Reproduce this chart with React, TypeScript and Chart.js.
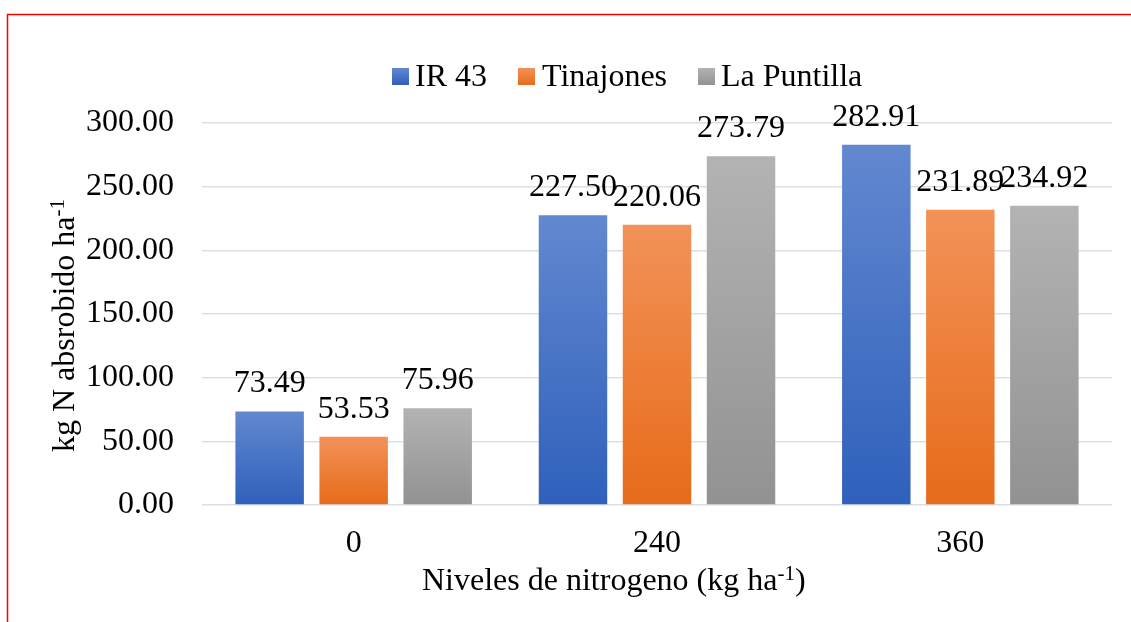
import React, { useEffect, useRef } from "react";
import { Chart, registerables } from "chart.js";

Chart.register(...registerables);

const categories = ["0", "240", "360"];
const seriesNames = ["IR 43", "Tinajones", "La Puntilla"];
const ir43 = [73.49, 227.5, 282.91];
const tinajones = [53.53, 220.06, 231.89];
const laPuntilla = [75.96, 273.79, 234.92];
const yTickMin = 0;
const yTickMax = 300;
const yTickStep = 50;

const xTitle = "Niveles de nitrogeno (kg ha";
const yTitle = "kg N absrobido ha";
const superscript = "-1";

const gradTop = ["#6288d0", "#f29258", "#b3b3b3"];
const gradBottom = ["#2f60bb", "#e76b1a", "#929292"];
const FONT = '"Liberation Serif", "Times New Roman", serif';

export default function App() {
  const ref = useRef<HTMLCanvasElement | null>(null);

  useEffect(() => {
    const canvas = ref.current;
    if (!canvas) return;

    const makeBg = (i: number) => (ctx: any) => {
      const chart = ctx.chart;
      if (!chart.chartArea || ctx.type !== "data" || !chart.scales.y) return gradBottom[i];
      const ys = chart.scales.y;
      const v = ctx.parsed ? ctx.parsed.y : ctx.raw;
      const top = ys.getPixelForValue(v);
      const base = ys.getPixelForValue(0);
      if (!isFinite(top) || !isFinite(base) || top === base) return gradBottom[i];
      const g = chart.ctx.createLinearGradient(0, top, 0, base);
      g.addColorStop(0, gradTop[i]);
      g.addColorStop(1, gradBottom[i]);
      return g;
    };

    const decorPlugin = {
      id: "decor",
      afterDraw(chart: any) {
        const c = chart.ctx;
        c.save();
        // red frame
        c.strokeStyle = "#ff0000";
        c.lineWidth = 1.5;
        c.strokeRect(7.5, 14.5, 3000, 3000);

        // data labels
        c.fillStyle = "#000";
        c.font = `32px ${FONT}`;
        c.textAlign = "center";
        c.textBaseline = "alphabetic";
        chart.data.datasets.forEach((ds: any, di: number) => {
          const meta = chart.getDatasetMeta(di);
          meta.data.forEach((bar: any, i: number) => {
            const v = ds.data[i] as number;
            c.fillText(v.toFixed(2), bar.x, bar.y - 19);
          });
        });

        // legend
        const boxX = [392, 518, 698];
        const textX = [415, 542, 721];
        c.textAlign = "left";
        seriesNames.forEach((name, i) => {
          const g = c.createLinearGradient(0, 68, 0, 85);
          g.addColorStop(0, gradTop[i]);
          g.addColorStop(1, gradBottom[i]);
          c.fillStyle = g;
          c.fillRect(boxX[i], 68, 17, 17);
          c.fillStyle = "#000";
          c.fillText(name, textX[i], 86);
        });

        // x title
        c.font = `32px ${FONT}`;
        c.fillText(xTitle, 422, 590);
        let w = c.measureText(xTitle).width;
        c.font = `21px ${FONT}`;
        c.fillText(superscript, 422 + w, 580);
        const sw = c.measureText(superscript).width;
        c.font = `32px ${FONT}`;
        c.fillText(")", 422 + w + sw, 590);

        // y title
        c.save();
        c.translate(74, 452);
        c.rotate(-Math.PI / 2);
        c.font = `32px ${FONT}`;
        c.fillText(yTitle, 0, 0);
        w = c.measureText(yTitle).width;
        c.font = `21px ${FONT}`;
        c.fillText(superscript, w, -10);
        c.restore();

        c.restore();
      },
    };

    const chart = new Chart(canvas, {
      type: "bar",
      data: {
        labels: categories,
        datasets: [
          { label: seriesNames[0], data: ir43, backgroundColor: makeBg(0) },
          { label: seriesNames[1], data: tinajones, backgroundColor: makeBg(1) },
          { label: seriesNames[2], data: laPuntilla, backgroundColor: makeBg(2) },
        ],
      },
      options: {
        responsive: false,
        animation: false,
        devicePixelRatio: 1,
        layout: { padding: { top: 123, right: 19, left: 0, bottom: 0 } },
        datasets: {
          bar: { categoryPercentage: 0.831, barPercentage: 0.815 },
        },
        plugins: {
          legend: { display: false },
          tooltip: { enabled: false },
          title: { display: false },
        },
        scales: {
          x: {
            grid: { display: false, drawTicks: false },
            border: { display: false },
            ticks: {
              color: "#000",
              font: { family: FONT, size: 32 },
              padding: 19,
            },
            afterFit: (s: any) => {
              s.height = 117;
            },
          },
          y: {
            min: yTickMin,
            max: yTickMax,
            grid: { color: "#dadfe7", lineWidth: 1.5, drawTicks: false },
            border: { display: false },
            ticks: {
              stepSize: yTickStep,
              color: "#000",
              font: { family: FONT, size: 32 },
              padding: 28,
              callback: (v: any) => Number(v).toFixed(2),
            },
            afterFit: (s: any) => {
              s.width = 202;
            },
          },
        },
      },
      plugins: [decorPlugin],
    });

    return () => chart.destroy();
  }, []);

  return (
    <div style={{ position: "fixed", left: 0, top: 0, width: 1131, height: 622, background: "#fff" }}>
      <canvas ref={ref} width={1131} height={622} style={{ display: "block" }} />
    </div>
  );
}
